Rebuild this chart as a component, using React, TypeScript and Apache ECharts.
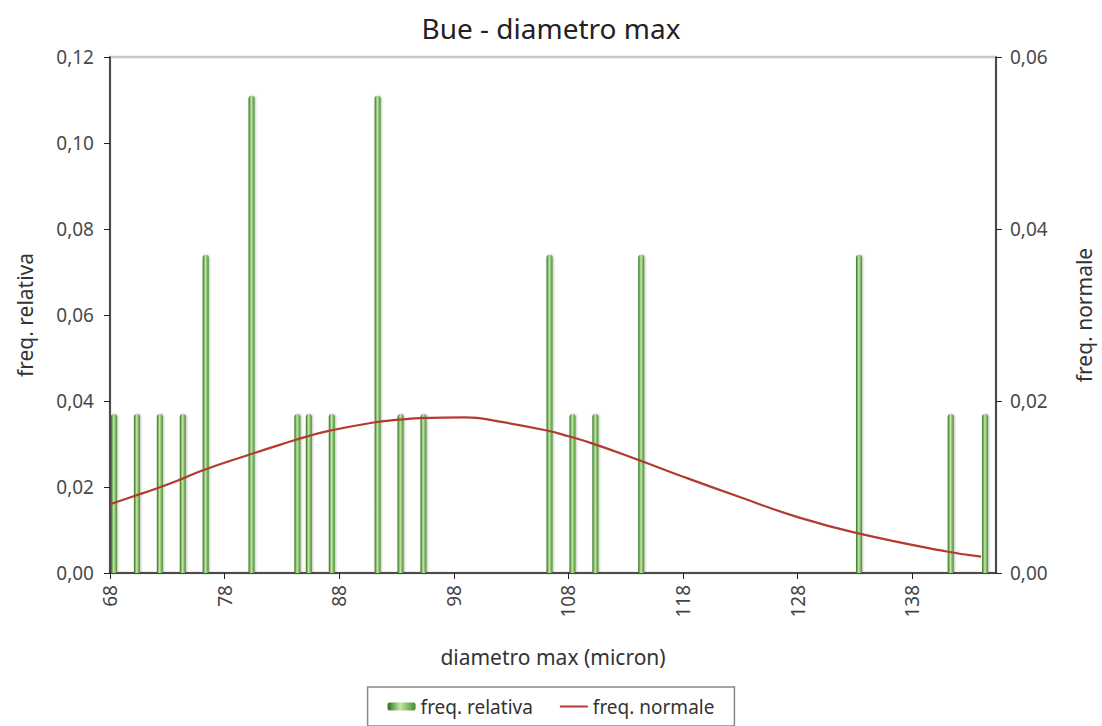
import React, { useEffect, useRef } from "react";
import * as echarts from "echarts";

const titleText = "Bue - diametro max";
const diameters = [68, 70, 72, 74, 76, 80, 84, 85, 87, 91, 93, 95, 106, 108, 110, 114, 133, 141, 144];
const freqRelativa = [0.037, 0.037, 0.037, 0.037, 0.074, 0.111, 0.037, 0.037, 0.037, 0.111, 0.037, 0.037, 0.074, 0.037, 0.037, 0.074, 0.074, 0.037, 0.037];
const curveX = [68, 70, 72, 74, 76, 80, 84, 85, 87, 91, 93, 95, 99, 102, 106, 108, 110, 114, 118, 123, 128, 133, 141, 144];
const freqNormale = [0.008, 0.0089, 0.0098, 0.0108, 0.0119, 0.0137, 0.0154, 0.0158, 0.0165, 0.0175, 0.0178, 0.018, 0.0181, 0.0176, 0.0166, 0.0159, 0.0151, 0.0132, 0.0112, 0.0088, 0.0065, 0.0047, 0.0025, 0.0019];

const FONT = "'Noto Sans', 'Open Sans', sans-serif";
const comma = (v: number) => v.toFixed(2).replace(".", ",");

export default function App() {
  const ref = useRef<HTMLDivElement>(null);
  useEffect(() => {
    if (!ref.current) return;
    const chart = echarts.init(ref.current, null, { renderer: "svg" });
    const barColor = new echarts.graphic.LinearGradient(0, 0, 1, 0, [
      { offset: 0, color: "#24701a" },
      { offset: 0.45, color: "#c9e6a6" },
      { offset: 1, color: "#3f8f2c" },
    ]);
    chart.setOption({
      animation: false,
      textStyle: { fontFamily: FONT },
      title: {
        text: titleText,
        left: "center",
        top: 9,
        textStyle: { fontFamily: FONT, fontSize: 28, fontWeight: "normal", color: "#222" },
      },
      legend: {
        bottom: 0,
        left: "center",
        borderColor: "#888",
        borderWidth: 1.5,
        padding: [10, 20, 10, 20],
        itemGap: 26,
        itemWidth: 28,
        itemHeight: 8,
        textStyle: { fontFamily: FONT, fontSize: 19, color: "#333" },
        data: [
          { name: "freq. relativa", icon: "roundRect" },
          { name: "freq. normale", itemStyle: { opacity: 0 } },
        ],
      },
      grid: {
        left: 110,
        right: 103,
        top: 57,
        bottom: 153,
        show: true,
        borderColor: "#c8c8c8",
        borderWidth: 2.5,
      },
      xAxis: {
        type: "value",
        min: 68,
        max: 145.3,
        interval: 10,
        name: "diametro max (micron)",
        nameLocation: "middle",
        nameGap: 73,
        nameTextStyle: { fontFamily: FONT, fontSize: 21, color: "#333" },
        axisLine: { lineStyle: { color: "#222", width: 1.5 } },
        axisTick: { show: true, inside: false, length: 6, lineStyle: { color: "#222" } },
        splitLine: { show: false },
        axisLabel: {
          rotate: 90,
          margin: 12,
          fontSize: 19,
          color: "#444",
          showMaxLabel: false,
          formatter: (v: number) => String(Math.round(v)),
        },
      },
      yAxis: [
        {
          type: "value",
          min: 0,
          max: 0.12,
          interval: 0.02,
          name: "freq. relativa",
          nameLocation: "middle",
          nameRotate: 90,
          nameGap: 75,
          nameTextStyle: { fontFamily: FONT, fontSize: 21, color: "#333" },
          axisLine: { show: true, lineStyle: { color: "#222", width: 1.5 } },
          axisTick: { show: true, length: 6, lineStyle: { color: "#222" } },
          splitLine: { show: false },
          axisLabel: { fontSize: 19, color: "#4a4a4a", margin: 16, formatter: comma },
        },
        {
          type: "value",
          min: 0,
          max: 0.06,
          interval: 0.02,
          position: "right",
          name: "freq. normale",
          nameLocation: "middle",
          nameRotate: 90,
          nameGap: 77,
          nameTextStyle: { fontFamily: FONT, fontSize: 21, color: "#333" },
          axisLine: { show: true, lineStyle: { color: "#222", width: 1.5 } },
          axisTick: { show: true, length: 6, lineStyle: { color: "#222" } },
          splitLine: { show: false },
          axisLabel: { fontSize: 19, color: "#4a4a4a", margin: 14, formatter: comma },
        },
      ],
      series: [
        {
          name: "_spacer",
          type: "bar",
          yAxisIndex: 0,
          barWidth: 8,
          barGap: 0,
          data: [],
          tooltip: { show: false },
        },
        {
          name: "freq. relativa",
          type: "bar",
          yAxisIndex: 0,
          barWidth: 6,
          barGap: 0,
          itemStyle: {
            color: barColor,
            borderRadius: [3, 3, 0, 0],
            shadowColor: "rgba(0,0,0,0.25)",
            shadowBlur: 2,
            shadowOffsetX: 1,
          },
          data: diameters.map((d, i) => [d, freqRelativa[i]]),
        },
        {
          name: "freq. normale",
          type: "line",
          yAxisIndex: 1,
          smooth: true,
          symbol: "none",
          lineStyle: { color: "#b33a30", width: 2.2 },
          itemStyle: { color: "#b33a30" },
          data: curveX.map((x, i) => [x, freqNormale[i]]),
        },
      ],
    });
    return () => chart.dispose();
  }, []);
  return <div ref={ref} style={{ position: "absolute", left: 0, top: 0, width: 1102, height: 726 }} />;
}
